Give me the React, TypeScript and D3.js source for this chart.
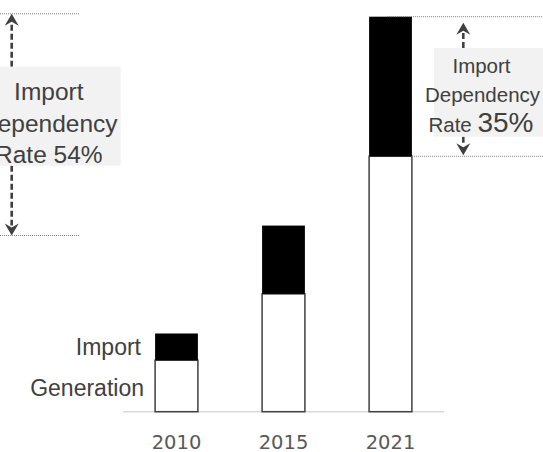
import React from "react";
import * as d3 from "d3";

// Electricity supply by year: domestic generation plus imports
const years = ["2010", "2015", "2021"];
const generation = [52, 119, 258];
const imports = [27, 69, 141];

// Reference supply level referred to by the left-hand bracket
const refTotal = 402;
const refGeneration = 178;
const refRateLabel = "54%";
const latestRateLabel = "35%";

const W = 543;
const H = 452;
const TEXT = "#404040";
const SANS = "'Liberation Sans', Arial, sans-serif";

function Arrow({ x, y1, y2 }: { x: number; y1: number; y2: number }) {
  // dashed shaft from y1 to the tip at y2
  const dir = y2 > y1 ? 1 : -1;
  const headLen = 12;
  const headHalf = 7;
  return (
    <g>
      <line
        x1={x}
        y1={y1}
        x2={x}
        y2={y2 - dir * headLen + dir * 2}
        stroke={TEXT}
        strokeWidth={2.6}
        strokeDasharray="6,3"
      />
      <path
        d={`M${x},${y2} L${x - headHalf},${y2 - dir * headLen} L${x},${y2 - dir * (headLen - 4)} L${x + headHalf},${y2 - dir * headLen} Z`}
        fill={TEXT}
      />
    </g>
  );
}

export default function App() {
  const x = d3
    .scaleBand<string>()
    .domain(years)
    .range([123, 444])
    .paddingInner(0.6)
    .paddingOuter(0.3);
  const y = d3.scaleLinear().domain([0, 400]).range([411.7, 15.7]);
  const bw = x.bandwidth();
  const last = years.length - 1;
  const lastTop = y(generation[last] + imports[last]);
  const lastGen = y(generation[last]);
  const lastRight = (x(years[last]) as number) + bw;

  return (
    <svg
      width={W}
      height={H}
      style={{ position: "absolute", left: 0, top: 0, display: "block", background: "#fff" }}
    >
      {/* baseline */}
      <line x1={123} x2={444} y1={y(0)} y2={y(0)} stroke="#d9d9d9" strokeWidth={1.5} />

      {/* stacked bars */}
      {years.map((yr, i) => {
        const bx = x(yr) as number;
        return (
          <g key={yr}>
            <rect
              x={bx}
              y={y(generation[i])}
              width={bw}
              height={y(0) - y(generation[i])}
              fill="#fff"
              stroke="#404040"
              strokeWidth={1.5}
            />
            <rect
              x={bx}
              y={y(generation[i] + imports[i])}
              width={bw}
              height={y(generation[i]) - y(generation[i] + imports[i])}
              fill="#000"
            />
            <text
              x={bx + bw / 2}
              y={448.5}
              textAnchor="middle"
              fontFamily="'DejaVu Sans', Verdana, sans-serif"
              fontSize={19.5}
              fill="#595959"
            >
              {yr}
            </text>
          </g>
        );
      })}

      {/* series labels beside the first bar */}
      <text x={141} y={355} textAnchor="end" fontFamily={SANS} fontSize={23} fill={TEXT}>
        Import
      </text>
      <text x={144} y={396} textAnchor="end" fontFamily={SANS} fontSize={23} fill={TEXT}>
        Generation
      </text>

      {/* left bracket */}
      <line x1={0} x2={80} y1={y(refTotal)} y2={y(refTotal)} stroke="#7f7f7f" strokeWidth={1} strokeDasharray="1,1" />
      <line x1={0} x2={80} y1={y(refGeneration)} y2={y(refGeneration)} stroke="#7f7f7f" strokeWidth={1} strokeDasharray="1,1" />
      <Arrow x={11.7} y1={66.7} y2={y(refTotal)} />
      <Arrow x={11.7} y1={165.7} y2={y(refGeneration)} />
      <rect x={-10} y={66.7} width={130.7} height={99} fill="#f2f2f2" />
      <g fontFamily={SANS} fontSize={24.5} fill={TEXT} textAnchor="middle">
        <text x={48.8} y={100}>Import</text>
        <text x={48.8} y={131.5}>Dependency</text>
        <text x={48.8} y={163}>Rate {refRateLabel}</text>
      </g>

      {/* right bracket on the latest bar */}
      <line x1={lastRight - 25} x2={W} y1={lastTop} y2={lastTop} stroke="#7f7f7f" strokeWidth={1} strokeDasharray="1,1" />
      <line x1={lastRight} x2={W} y1={lastGen} y2={lastGen} stroke="#7f7f7f" strokeWidth={1} strokeDasharray="1,1" />
      <Arrow x={463.3} y1={48} y2={lastTop + 6} />
      <Arrow x={463.3} y1={136.7} y2={lastGen - 1} />
      <rect x={434} y={48} width={120} height={88.7} fill="#f2f2f2" />
      <g fontFamily={SANS} fill={TEXT} textAnchor="middle">
        <text x={481.5} y={73.3} fontSize={20.5}>Import</text>
        <text x={482.5} y={102} fontSize={20.5}>Dependency</text>
        <text x={481} y={131.7}>
          <tspan fontSize={20.5}>Rate </tspan>
          <tspan fontSize={28}>{latestRateLabel}</tspan>
        </text>
      </g>
    </svg>
  );
}
